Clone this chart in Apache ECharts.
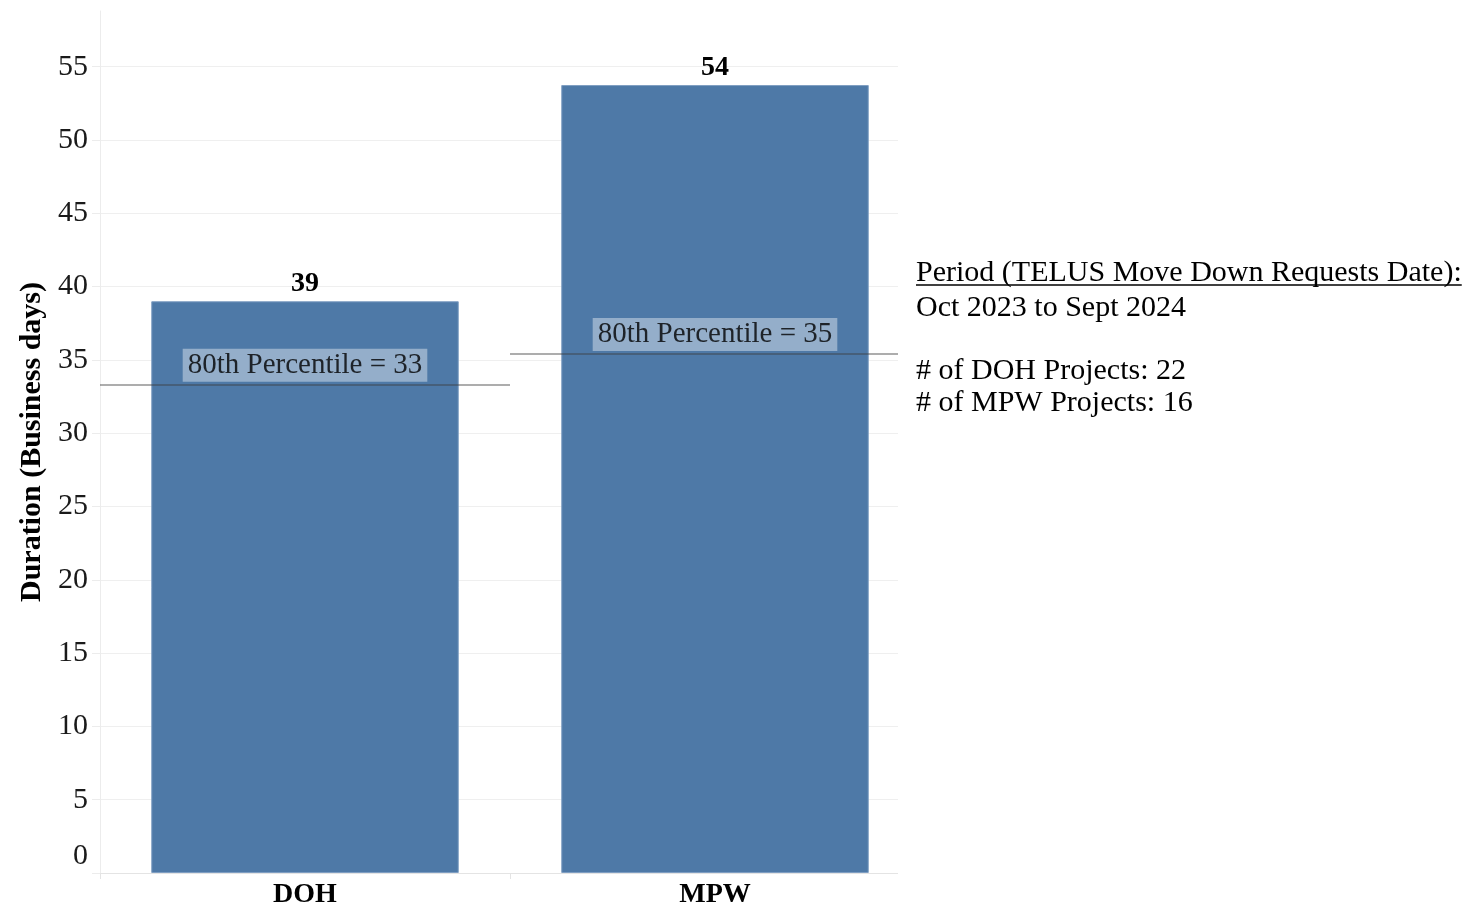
<!DOCTYPE html>
<html>
<head>
<meta charset="utf-8">
<title>Duration by team</title>
<script src="https://cdn.jsdelivr.net/npm/echarts@6/dist/echarts.min.js"></script>
<style>
  html, body { margin: 0; padding: 0; background: #fff; }
  #chart { width: 1466px; height: 911px; }
</style>
</head>
<body>
<div id="chart"></div>
<script>
// data
const categories = ['DOH', 'MPW'];
const durations = [39, 53.75];
const percentile80 = [33.3, 35.4];
const yTicks = [0, 5, 10, 15, 20, 25, 30, 35, 40, 45, 50, 55];
const notes = [
  'Period (TELUS Move Down Requests Date):',
  'Oct 2023 to Sept 2024',
  '# of DOH Projects: 22',
  '# of MPW Projects: 16'
];

const FONT = '"Liberation Serif", "Times New Roman", serif';
const chart = echarts.init(document.getElementById('chart'));

// measure the underlined heading so the underline fits it
const ctx = document.createElement('canvas').getContext('2d');
ctx.font = '30px ' + FONT;
const headWidth = ctx.measureText(notes[0]).width;

// last split line (axis top) is hidden
const splitColors = yTicks.map(() => '#efefef').concat(['rgba(0,0,0,0)']);

const option = {
  backgroundColor: '#fff',
  animation: false,
  grid: { left: 100, right: 546, top: 11, bottom: 38 },
  xAxis: [{
    type: 'category',
    data: categories,
    axisLine: { show: true, lineStyle: { color: '#e4e4e4', width: 1 } },
    axisTick: { show: true, length: 6, lineStyle: { color: '#e4e4e4' } },
    axisLabel: { fontFamily: FONT, fontSize: 28, fontWeight: 'bold', color: '#000', margin: 8 },
    splitLine: { show: false }
  }, {
    // hidden helper axis so the percentile lines span a full band
    type: 'value', min: -0.5, max: 1.5, show: false
  }],
  yAxis: {
    type: 'value',
    min: 0,
    max: 58.8,
    interval: 5,
    name: 'Duration (Business days)',
    nameLocation: 'middle',
    nameGap: 50,
    nameTextStyle: { fontFamily: FONT, fontSize: 30, fontWeight: 'bold', color: '#000' },
    axisLine: { show: true, onZero: false, lineStyle: { color: '#ececec' } },
    axisTick: { show: true, length: 8, lineStyle: { color: '#ececec' } },
    axisLabel: {
      fontFamily: FONT, fontSize: 30, color: '#1a1a1a', margin: 12,
      showMaxLabel: false,
      formatter: function (v) {
        if (v === 0) return '{z|0}';
        return yTicks.indexOf(v) >= 0 ? String(v) : '';
      },
      rich: { z: { fontFamily: FONT, fontSize: 30, color: '#1a1a1a', padding: [0, 0, 34, 0] } }
    },
    splitLine: { show: true, lineStyle: { color: splitColors, width: 1 } }
  },
  series: [{
    type: 'bar',
    data: durations,
    barWidth: '75%',
    itemStyle: { color: '#4e79a7', borderColor: '#7f9ec2', borderWidth: 1 },
    label: {
      show: true, position: 'top', distance: 3,
      fontFamily: FONT, fontSize: 28, fontWeight: 'bold', color: '#000',
      formatter: p => Math.round(p.value)
    },
    z: 2
  }, {
    type: 'scatter',
    xAxisIndex: 1,
    data: percentile80.map((p, i) => [i, p]),
    symbolSize: 0.1,
    silent: true,
    z: 5,
    label: {
      show: true, position: 'top', distance: 3,
      fontFamily: FONT, fontSize: 29, color: '#000',
      lineHeight: 31,
      backgroundColor: 'rgba(255,255,255,0.5)',
      padding: [1, 5, 1, 5],
      formatter: p => '80th Percentile = ' + Math.round(p.value[1])
    },
    markLine: {
      silent: true,
      symbol: 'none',
      label: { show: false },
      lineStyle: { color: 'rgba(60,60,60,0.42)', width: 2, type: 'solid' },
      data: percentile80.map((p, i) => [{ coord: [i - 0.5, p] }, { coord: [i + 0.5, p] }])
    }
  }],
  graphic: [
    // trims the plot at its right edge, where the notes begin
    { type: 'rect', z: 100, shape: { x: 898, y: 0, width: 24, height: 890 }, style: { fill: '#fff' } },
    { type: 'text', z: 101, x: 916, y: 273, style: { text: notes[0], font: '30px ' + FONT, fill: '#000', verticalAlign: 'middle' } },
    { type: 'line', z: 101, shape: { x1: 916, y1: 285, x2: 916 + headWidth, y2: 285 }, style: { stroke: '#000', lineWidth: 1.5 } },
    { type: 'text', z: 101, x: 916, y: 308, style: { text: notes[1], font: '30px ' + FONT, fill: '#000', verticalAlign: 'middle' } },
    { type: 'text', z: 101, x: 916, y: 371, style: { text: notes[2], font: '30px ' + FONT, fill: '#000', verticalAlign: 'middle' } },
    { type: 'text', z: 101, x: 916, y: 403, style: { text: notes[3], font: '30px ' + FONT, fill: '#000', verticalAlign: 'middle' } }
  ]
};

chart.setOption(option);
window.addEventListener('resize', () => chart.resize());
</script>
</body>
</html>
